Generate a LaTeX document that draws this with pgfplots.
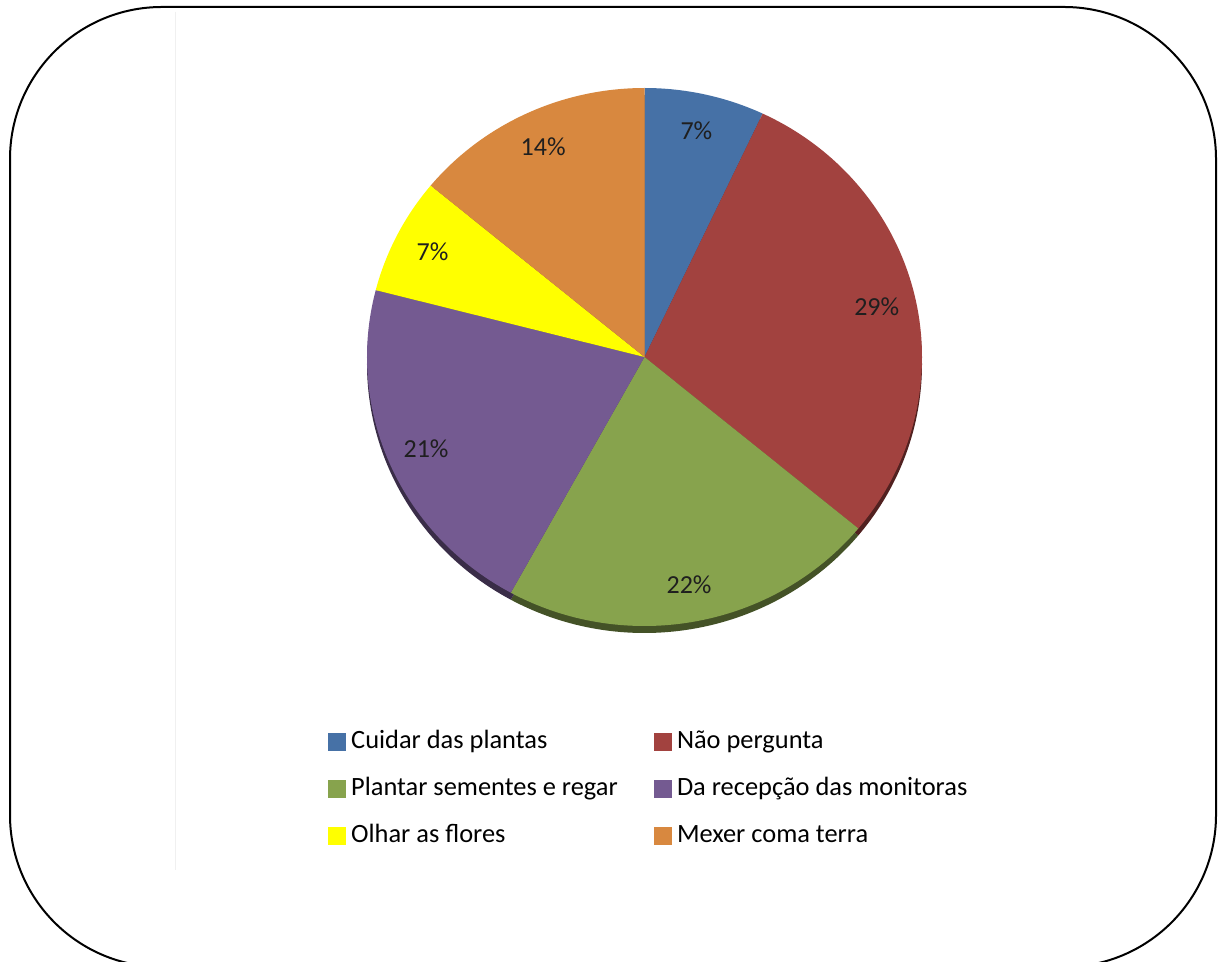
\documentclass[border=0pt]{standalone}
\usepackage{pgfplots}
\usepackage{pgfplotstable}
\pgfplotsset{compat=1.18}
\usepackage{fontspec}
\setmainfont{Carlito}

\definecolor{cBlue}{HTML}{4671A6}
\definecolor{cRed}{HTML}{A2423F}
\definecolor{cGreen}{HTML}{87A34D}
\definecolor{cPurple}{HTML}{745A91}
\definecolor{cYellow}{HTML}{FFFF00}
\definecolor{cOrange}{HTML}{D8883F}

\pgfplotstableread[col sep=comma]{
label,value,color
Cuidar das plantas,7,cBlue
Não pergunta,29,cRed
Plantar sementes e regar,22,cGreen
Da recepção das monitoras,21,cPurple
Olhar as flores,7,cYellow
Mexer coma terra,14,cOrange
}\piedata

% pie geometry (1 px of the reference = 0.5pt)
\def\pcx{644.5}\def\pcy{357}
\def\prx{138.75pt}\def\pry{134.5pt}
\def\plx{119pt}\def\ply{116pt}

\def\cumsum{0}%
\def\pieShadow{}\def\pieSlices{}\def\pieLabels{}\def\pieLegend{}%
\pgfplotsforeachungrouped \i in {0,...,5}{%
  \pgfplotstablegetelem{\i}{value}\of\piedata
  \let\pv=\pgfplotsretval
  \pgfmathsetmacro\ps{90-3.6*\cumsum}%
  \pgfmathsetmacro\newcum{\cumsum+\pv}%
  \pgfmathsetmacro\pe{90-3.6*\newcum}%
  \pgfmathsetmacro\pm{(\ps+\pe)/2}%
  \xdef\cumsum{\newcum}%
  \pgfplotstablegetelem{\i}{color}\of\piedata
  \colorlet{pieCol\i}{\pgfplotsretval}%
  \pgfplotstablegetelem{\i}{label}\of\piedata
  \let\pl=\pgfplotsretval
  \xdef\pieShadow{\unexpanded\expandafter{\pieShadow}%
    \noexpand\fill[pieCol\i!50!black, yshift=-3.5pt] (axis cs:\pcx,\pcy) -- ++(\ps:\prx\space and \pry) arc[start angle=\ps, end angle=\pe, x radius=\prx, y radius=\pry] -- cycle;}%
  \xdef\pieSlices{\unexpanded\expandafter{\pieSlices}%
    \noexpand\fill[pieCol\i] (axis cs:\pcx,\pcy) -- ++(\ps:\prx\space and \pry) arc[start angle=\ps, end angle=\pe, x radius=\prx, y radius=\pry] -- cycle;}%
  \xdef\pieLabels{\unexpanded\expandafter{\pieLabels}%
    \noexpand\node[text=black!88, font=\noexpand\fontsize{13}{15}\noexpand\selectfont, shift={(\pm:\plx\space and \ply)}] at (axis cs:\pcx,\pcy) {\pv\noexpand\%};}%
  \ifodd\i
    \xdef\pieLegend{\unexpanded\expandafter{\pieLegend}%
      \noexpand\addlegendimage{legend image code/.code={\noexpand\fill[pieCol\i] (0pt,-4.25pt) rectangle (8.5pt,4.25pt);}}%
      \noexpand\addlegendentry{\noexpand\hspace*{0.5pt}\pl}}%
  \else
    \xdef\pieLegend{\unexpanded\expandafter{\pieLegend}%
      \noexpand\addlegendimage{legend image code/.code={\noexpand\fill[pieCol\i] (0pt,-4.25pt) rectangle (8.5pt,4.25pt);}}%
      \noexpand\addlegendentry{\noexpand\makebox[150pt][l]{\noexpand\hspace*{0.5pt}\pl}}}%
  \fi
}%

\begin{document}%
\begin{tikzpicture}
\useasboundingbox (0,0) rectangle (609.5pt,481pt);
\clip (0,0) rectangle (609.5pt,481pt);
\fill[white] (0,0) rectangle (609.5pt,481pt);
\begin{axis}[
  at={(0,0)}, anchor=south west,
  width=609.5pt, height=481pt, scale only axis,
  xmin=0, xmax=1219, ymin=0, ymax=962, y dir=reverse,
  hide axis, clip=false,
  legend columns=2,
  legend cell align=left,
  legend style={at={(axis cs:322,725)}, anchor=north west, draw=none, fill=none,
    font=\fontsize{13.2}{15}\selectfont,
    nodes={text height=9.5pt, text depth=3pt, inner ysep=0pt},
    /tikz/row sep=11pt},
]
\draw[black!6] (axis cs:175,12) -- (axis cs:175,870);
\pieShadow
\pieSlices
\pieLabels
\pieLegend
\end{axis}
\draw[line width=1pt, rounded corners=76pt] (5pt,477.5pt) rectangle (608pt,-2.5pt);
\end{tikzpicture}%
\end{document}
